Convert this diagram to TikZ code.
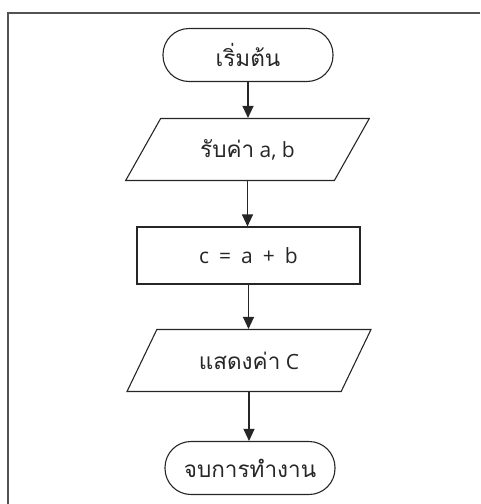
\documentclass[tikz,border=0pt]{standalone}
\usepackage{fontspec}
\setmainfont{Open Sans}
\newfontfamily\thaifont[Script=Thai]{Loma}
\newcommand{\thtxt}[1]{{\fontsize{22.5}{26}\selectfont\thaifont #1}}
\newcommand{\gp}{\hspace{10pt}}
\usetikzlibrary{shapes.geometric,arrows.meta}
\definecolor{ink}{gray}{0.15}
\tikzset{
  every node/.style={font=\fontsize{21}{24}\selectfont, text=ink},
  term/.style={draw=ink, line width=1.1pt, rectangle, rounded corners=26pt, minimum width=170pt, minimum height=53pt, inner sep=0pt},
  io/.style={draw=ink, line width=1.1pt, trapezium, trapezium left angle=47.4, trapezium right angle=132.6, trapezium stretches=true, minimum width=244pt, minimum height=62pt, inner sep=0pt},
  proc/.style={draw=ink, line width=1.1pt, rectangle, minimum width=223pt, minimum height=57pt, inner sep=0pt},
  flow/.style={draw=ink, line width=1.1pt, -{Triangle[length=12pt,width=11pt]}},
  frame/.style={draw=ink!80, line width=1.5pt}
}
\begin{document}
\begin{tikzpicture}[x=1pt,y=-1pt]
\useasboundingbox (0,0) rectangle (480,504);
\coordinate (fa) at (480,13);
\coordinate (fb) at (8,13);
\coordinate (fc) at (8,504);
\draw[frame] (fa) -- (fb) -- (fc);
\node[term] (start) at (248,55) {\thtxt{เริ่มต้น}};
\node[io] (in) at (247.5,149.5) {\thtxt{รับค่า} a, b};
\node[proc] (calc) at (248.5,255.5) {c\gp=\gp a\gp+\gp b};
\node[io] (out) at (249,360.5) {\thtxt{แสดงค่า} C};
\node[term] (stop) at (250,468) {\thtxt{จบการทำงาน}};
\draw[flow] (start.south) -- (start.south |- in.north);
\draw[flow] (in.south) -- (in.south |- calc.north);
\draw[flow] (calc.south) -- (calc.south |- out.north);
\draw[flow] (out.south) -- (out.south |- stop.north);
\end{tikzpicture}
\end{document}
